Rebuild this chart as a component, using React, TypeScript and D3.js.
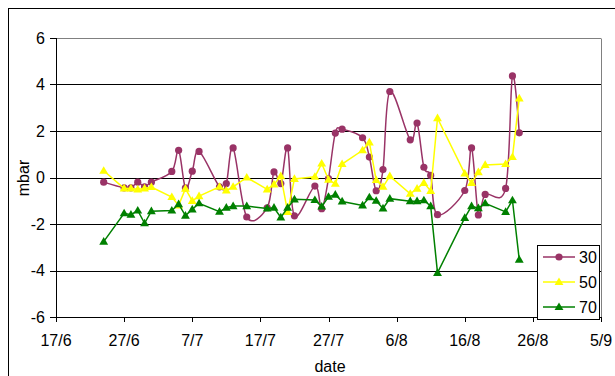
import React from "react";
import * as d3 from "d3";

const dates = [
  "2006-06-24", "2006-06-27", "2006-06-28", "2006-06-29", "2006-06-30", "2006-07-01",
  "2006-07-04", "2006-07-05", "2006-07-06", "2006-07-07", "2006-07-08", "2006-07-11",
  "2006-07-12", "2006-07-13", "2006-07-15", "2006-07-18", "2006-07-19", "2006-07-20",
  "2006-07-21", "2006-07-22", "2006-07-25", "2006-07-26", "2006-07-27", "2006-07-28",
  "2006-07-29", "2006-08-01", "2006-08-02", "2006-08-03", "2006-08-04", "2006-08-05",
  "2006-08-08", "2006-08-09", "2006-08-10", "2006-08-11", "2006-08-12", "2006-08-16",
  "2006-08-17", "2006-08-18", "2006-08-19", "2006-08-22", "2006-08-23", "2006-08-24",
];

const s30 = [
  -0.2, -0.45, -0.45, -0.2, -0.4, -0.2,
  0.26, 1.17, -0.45, 0.27, 1.12, -0.4,
  -0.26, 1.27, -1.7, -1.3, 0.24, -0.26,
  1.27, -1.65, -0.37, -1.34, -0.05, 1.91,
  2.08, 1.71, 0.88, -0.57, 0.34, 3.7,
  1.62, 2.34, 0.44, 0.09, -1.6, -0.56,
  1.27, -1.61, -0.73, -0.47, 4.37, 1.92,
];

const s50 = [
  0.29, -0.47, -0.47, -0.51, -0.47, -0.41,
  -0.84, -1.2, -0.48, -1.01, -0.8, -0.4,
  -0.56, -0.4, 0.0, -0.51, -0.3, 0.06,
  -1.48, -0.06, 0.03, 0.6, -0.09, -0.27,
  0.58, 1.17, 1.51, -0.11, -0.4, 0.06,
  -0.7, -0.48, -0.23, -0.58, 2.55, 0.17,
  -0.23, 0.23, 0.54, 0.58, 0.88, 3.4,
];

const s70 = [
  -2.76, -1.54, -1.6, -1.42, -1.97, -1.45,
  -1.42, -1.15, -1.64, -1.37, -1.11, -1.47,
  -1.3, -1.23, -1.23, -1.33, -1.3, -1.72,
  -1.3, -0.94, -0.97, -1.25, -0.83, -0.74,
  -1.03, -1.2, -0.85, -1.0, -1.33, -0.91,
  -1.02, -1.02, -0.98, -1.23, -4.1, -1.74,
  -1.23, -1.32, -1.11, -1.48, -0.98, -3.53,
];

const seriesNames = ["30", "50", "70"];
const seriesColors = ["#993366", "#FFFF00", "#008000"];
const yTicks = [-6, -4, -2, 0, 2, 4, 6];
const xTickLabels = ["17/6", "27/6", "7/7", "17/7", "27/7", "6/8", "16/8", "26/8", "5/9"];
const xStart = "2006-06-17";
const xEnd = "2006-09-05";

const FONT = "'Liberation Sans', Arial, sans-serif";

export default function App() {
  const parse = d3.utcParse("%Y-%m-%d");
  const x = d3.scaleUtc().domain([parse(xStart)!, parse(xEnd)!]).range([56, 601]);
  const y = d3.scaleLinear().domain([-6, 6]).range([317, 38]);
  const xs = dates.map((d) => x(parse(d)!));
  const xTickDates = xTickLabels.map((_, i) => d3.utcDay.offset(parse(xStart)!, i * 10));
  const xR = Math.round(x(parse(xEnd)!));

  const data = [s30, s50, s70];
  const curves = [d3.curveCardinal.tension(0), d3.curveLinear, d3.curveLinear];
  const tri = d3.symbol(d3.symbolTriangle, 34)()!;

  const lineGen = (vals: number[], curve: any) =>
    d3
      .line<number>()
      .x((_, i) => xs[i])
      .y((v) => y(v))
      .curve(curve)(vals)!;

  const marker = (k: number, cx: number, cy: number, key: string | number) =>
    k === 0 ? (
      <circle key={key} cx={cx} cy={cy} r={3.6} fill={seriesColors[k]} />
    ) : (
      <path key={key} d={tri} transform={`translate(${cx},${cy + 0.5})`} fill={seriesColors[k]} />
    );

  const legendY = [257, 282, 307];

  return (
    <svg
      width={615}
      height={376}
      style={{ position: "absolute", left: 0, top: 0, display: "block" }}
      fontFamily={FONT}
    >
      <rect x={0} y={0} width={615} height={376} fill="#fff" />
      <rect x={8.5} y={8.5} width={640} height={400} fill="none" stroke="#000" strokeWidth={1} />

      {/* gridlines */}
      {yTicks
        .filter((t) => t !== -6 && t !== 6)
        .map((t) => (
          <line key={t} x1={56} x2={xR} y1={Math.round(y(t)) + 0.5} y2={Math.round(y(t)) + 0.5} stroke="#000" />
        ))}
      {/* plot border top & right */}
      <line x1={56} x2={xR} y1={Math.round(y(6)) + 0.5} y2={Math.round(y(6)) + 0.5} stroke="#808080" />
      <line x1={xR + 0.5} x2={xR + 0.5} y1={Math.round(y(6)) + 0.5} y2={Math.round(y(-6)) + 0.5} stroke="#808080" />

      {/* y axis */}
      <line x1={56.5} x2={56.5} y1={Math.round(y(6))} y2={Math.round(y(-6)) + 1} stroke="#000" />
      {yTicks.map((t) => (
        <g key={t}>
          <line x1={50} x2={56} y1={Math.round(y(t)) + 0.5} y2={Math.round(y(t)) + 0.5} stroke="#000" />
          <text x={45} y={y(t)} dy="0.36em" textAnchor="end" fontSize={16} fill="#000">
            {t}
          </text>
        </g>
      ))}
      {/* x axis */}
      <line x1={56} x2={xR + 1} y1={Math.round(y(-6)) + 0.5} y2={Math.round(y(-6)) + 0.5} stroke="#000" />
      {xTickDates.map((d, i) => (
        <g key={i}>
          <line
            x1={Math.round(x(d)) + 0.5}
            x2={Math.round(x(d)) + 0.5}
            y1={Math.round(y(-6))}
            y2={Math.round(y(-6)) + 5}
            stroke="#000"
          />
          <text x={x(d)} y={346} textAnchor="middle" fontSize={16} fill="#000">
            {xTickLabels[i]}
          </text>
        </g>
      ))}

      <text x={330} y={372} textAnchor="middle" fontSize={16} fill="#000">
        date
      </text>
      <text transform="translate(29,178) rotate(-90)" textAnchor="middle" fontSize={16} fill="#000">
        mbar
      </text>

      {/* series */}
      {data.map((vals, k) => (
        <g key={k}>
          <path d={lineGen(vals, curves[k])} fill="none" stroke={seriesColors[k]} strokeWidth={1.5} />
          {vals.map((v, i) => marker(k, xs[i], y(v), i))}
        </g>
      ))}

      {/* legend */}
      <rect x={537.5} y={245.5} width={62} height={74} fill="#fff" stroke="#000" />
      {seriesNames.map((n, k) => (
        <g key={n}>
          <line x1={543} x2={575} y1={legendY[k]} y2={legendY[k]} stroke={seriesColors[k]} strokeWidth={1.5} />
          {marker(k, 559, legendY[k], "m")}
          <text x={579} y={legendY[k]} dy="0.36em" fontSize={16} fill="#000">
            {n}
          </text>
        </g>
      ))}
    </svg>
  );
}
